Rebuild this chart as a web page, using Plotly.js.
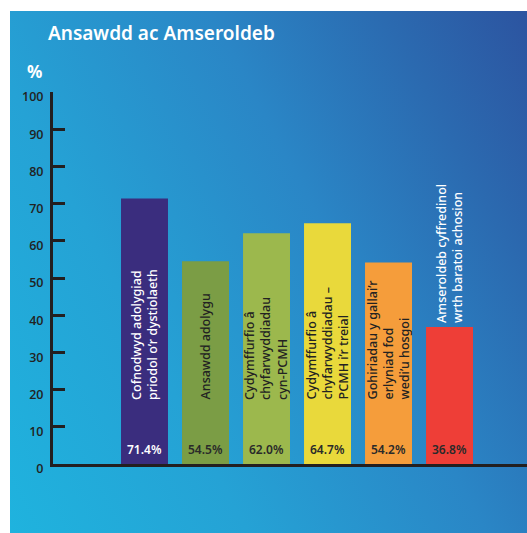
<!DOCTYPE html>
<html>
<head>
<meta charset="utf-8">
<script src="https://cdn.plot.ly/plotly-3.0.1.min.js"></script>
<style>
  html, body { margin: 0; padding: 0; background: #ffffff; }
  #wrap { position: relative; width: 527px; height: 533px; overflow: hidden; }
  #panel { position: absolute; left: 10px; top: 11px; width: 517px; height: 522px;
    background: linear-gradient(62deg, #1fb3de 0%, #25a2d5 30%, #2a86c6 60%, #2b6ab0 82%, #2c54a0 100%); }
  #chart { position: absolute; left: 0; top: 0; width: 527px; height: 533px; }
</style>
</head>
<body>
<div id="wrap"><div id="panel"></div><div id="chart"></div></div>
<script>
const title = "Ansawdd ac Amseroldeb";
const categories = [
  "Cofnodwyd adolygiad<br>priodol o’r dystiolaeth",
  "Ansawdd adolygu",
  "Cydymffurfio â<br>chyfarwyddiadau<br>cyn-PCMH",
  "Cydymffurfio â<br>chyfarwyddiadau –<br>PCMH i’r treial",
  "Gohiriadau y gallai’r<br>erlyniad fod<br>wedi’u hosgoi",
  "Amseroldeb cyffredinol<br>wrth baratoi achosion"
];
const values = [71.4, 54.5, 62.0, 64.7, 54.2, 36.8];
const barColors = ["#3a2d7e", "#7b9d45", "#9cb84d", "#e9d93b", "#f59d3b", "#ee3e37"];
const nameColors = ["#ffffff", "#222222", "#222222", "#222222", "#222222", "#ffffff"];
const valueColors = ["#ffffff", "#2a2a2a", "#2a2a2a", "#2a2a2a", "#2a2a2a", "#2a2a2a"];
const yTicks = [0, 10, 20, 30, 40, 50, 60, 70, 80, 90, 100];

const NAME_BASE = 16.7;   // where in-bar labels start
const VALUE_Y = 4.0;      // value label height
const fontFam = "Noto Sans, Open Sans, sans-serif";

const annotations = [];
categories.forEach((c, i) => {
  const inside = values[i] > 45;
  annotations.push({
    x: c, y: inside ? NAME_BASE : values[i] + 0.6, xref: 'x', yref: 'y',
    text: c, showarrow: false, textangle: -90,
    xanchor: 'center', yanchor: 'bottom', align: 'left',
    font: {family: fontFam, size: 12.5, color: nameColors[i], weight: 500}
  });
  annotations.push({
    x: c, y: VALUE_Y, xref: 'x', yref: 'y',
    text: values[i].toFixed(1) + '%', showarrow: false,
    xanchor: 'center', yanchor: 'middle',
    font: {family: fontFam, size: 12, color: valueColors[i], weight: 600}
  });
});
annotations.push({
  x: -0.038, y: 1.054, xref: 'paper', yref: 'paper', text: '%', showarrow: false,
  xanchor: 'center', yanchor: 'middle',
  font: {family: fontFam, size: 17, color: '#ffffff', weight: 700}
});

const trace = {
  type: 'bar', x: categories, y: values,
  marker: {color: barColors, line: {width: 0}},
  width: 0.77, hoverinfo: 'skip'
};

const layout = {
  width: 527, height: 533,
  margin: {l: 53, r: 0, t: 92, b: 69, pad: 0},
  paper_bgcolor: 'rgba(0,0,0,0)', plot_bgcolor: 'rgba(0,0,0,0)',
  showlegend: false,
  title: {text: title, xref: 'container', yref: 'container', x: 48/527, xanchor: 'left',
          y: 1 - 33/533, yanchor: 'middle',
          font: {family: fontFam, size: 19, color: '#ffffff', weight: 600}},
  xaxis: {type: 'category', range: [-1.5, 6.27], showticklabels: false, ticks: '',
          showgrid: false, zeroline: false, showline: true, linewidth: 3, linecolor: '#231f20',
          fixedrange: true},
  yaxis: {range: [0, 100], tickvals: yTicks, ticktext: yTicks.map(String), ticks: 'inside',
          ticklen: 12, tickwidth: 3, tickcolor: '#231f20', showgrid: false, zeroline: false,
          showline: true, linewidth: 3, linecolor: '#231f20', ticklabelshift: 5,
          ticklabelstandoff: 4,
          tickfont: {family: "Open Sans, sans-serif", size: 12.5, color: '#222222', weight: 600},
          fixedrange: true},
  annotations: annotations
};

Plotly.newPlot('chart', [trace], layout, {displayModeBar: false, staticPlot: true});
</script>
</body>
</html>
